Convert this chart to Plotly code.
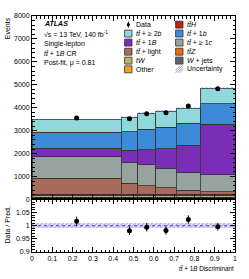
import plotly.graph_objects as go

# ---- data ----
bin_edges = [0.0, 0.44, 0.52, 0.61, 0.71, 0.83, 1.0]

other   = [105, 100, 100, 100, 100, 105]
tw      = [85, 82, 80, 80, 80, 80]
wjets   = [18, 18, 16, 16, 16, 18]
ttz     = [12, 12, 12, 12, 12, 14]
tth     = [10, 10, 10, 10, 12, 13]
tt_light = [686, 490, 381, 292, 190, 115]
tt_ge1c  = [956, 910, 916, 828, 784, 739]
tt_1B    = [371, 530, 663, 871, 1176, 2199]
tt_1b    = [691, 796, 885, 929, 947, 898]
tt_ge2b  = [561, 634, 695, 708, 663, 664]

data_vals = [3555, 3515, 3737, 3777, 4074, 4826]
data_err  = [60, 59, 61, 61, 64, 69]
unc_rel   = [0.010, 0.010, 0.010, 0.010, 0.010, 0.010]

x_ticks = [0, 0.1, 0.2, 0.3, 0.4, 0.5, 0.6, 0.7, 0.8, 0.9, 1]
y_ticks = [0, 1000, 2000, 3000, 4000, 5000, 6000, 7000, 8000]
r_ticks = [0.9, 0.95, 1, 1.05]

# ---- styling ----
FONT = "Liberation Sans"
FS = 7
W, H = 249, 279
L, R, T, B = 32, 12, 14, 27
PW, PH = W - L - R, H - T - B
ratio_h = 53

centers = [(a + b) / 2 for a, b in zip(bin_edges[:-1], bin_edges[1:])]
widths = [b - a for a, b in zip(bin_edges[:-1], bin_edges[1:])]

# stack bottom -> top
stack = [
    ("Other", other, "#f6a21c"),
    ("<i>tW</i>", tw, "#bdb06e"),
    ("<i>W</i> + jets", wjets, "#60656c"),
    ("<i>tt̄Z</i>", ttz, "#e8680c"),
    ("<i>tt̄H</i>", tth, "#c2210e"),
    ("<i>tt̄</i> + light", tt_light, "#a86b5b"),
    ("<i>tt̄</i> + ≥ 1<i>c</i>", tt_ge1c, "#97a39e"),
    ("<i>tt̄</i> + 1<i>B</i>", tt_1B, "#7a2db6"),
    ("<i>tt̄</i> + 1<i>b</i>", tt_1b, "#3b8bd8"),
    ("<i>tt̄</i> + ≥ 2<i>b</i>", tt_ge2b, "#91d8dc"),
]
colors = {n: c for n, _, c in stack}

totals = [sum(s[1][i] for s in stack) for i in range(len(centers))]

fig = go.Figure()
for name, vals, col in stack:
    fig.add_trace(go.Bar(x=centers, y=vals, width=widths, name=name,
                         marker=dict(color=col, line=dict(color="#333333", width=0.8)),
                         xaxis="x", yaxis="y", showlegend=False))

UNC_COL = "#7070e8"
unc_abs = [t * u for t, u in zip(totals, unc_rel)]
fig.add_trace(go.Bar(x=centers, y=[2 * u for u in unc_abs], base=[t - u for t, u in zip(totals, unc_abs)],
                     width=widths, marker=dict(color="rgba(0,0,0,0)", line=dict(width=0),
                     pattern=dict(shape="/", fgcolor=UNC_COL, size=3, solidity=0.4, fillmode="overlay")),
                     xaxis="x", yaxis="y", showlegend=False))

fig.add_trace(go.Scatter(x=centers, y=data_vals, mode="markers",
                         marker=dict(color="black", size=5),
                         error_y=dict(type="data", array=data_err, color="black", thickness=1, width=0),
                         xaxis="x", yaxis="y", showlegend=False))

# ratio panel
fig.add_trace(go.Bar(x=centers, y=[2 * u for u in unc_rel], base=[1 - u for u in unc_rel],
                     width=widths, marker=dict(color="rgba(180,180,255,0.35)", line=dict(width=0),
                     pattern=dict(shape="/", fgcolor=UNC_COL, size=3, solidity=0.4, fillmode="overlay")),
                     xaxis="x2", yaxis="y2", showlegend=False))
fig.add_trace(go.Scatter(x=[0, 1], y=[1, 1], mode="lines", line=dict(color="#2a2a8a", width=0.8, dash="dot"),
                         xaxis="x2", yaxis="y2", showlegend=False, hoverinfo="skip"))
ratio = [d / t for d, t in zip(data_vals, totals)]
ratio_err = [e / t for e, t in zip(data_err, totals)]
fig.add_trace(go.Scatter(x=centers, y=ratio, mode="markers",
                         marker=dict(color="black", size=5),
                         error_y=dict(type="data", array=ratio_err, color="black", thickness=1, width=0),
                         xaxis="x2", yaxis="y2", showlegend=False))

rd = ratio_h / PH
axis_common = dict(showline=True, linecolor="black", linewidth=1, mirror="ticks", ticks="inside",
                   ticklen=5, tickcolor="black", tickwidth=1, showgrid=False, zeroline=False,
                   tickfont=dict(family=FONT, size=FS, color="black"))
fig.update_layout(
    width=W, height=H, margin=dict(l=L, r=R, t=T, b=B),
    paper_bgcolor="white", plot_bgcolor="white", barmode="stack", bargap=0,
    showlegend=False, hovermode=False,
    font=dict(family=FONT, size=FS, color="black"),
    xaxis=dict(domain=[0, 1], anchor="y", range=[0, 1], tickvals=x_ticks, showticklabels=False,
               minor=dict(dtick=0.02, ticks="inside", ticklen=2.5, tickcolor="black"), **axis_common),
    yaxis=dict(domain=[rd, 1], anchor="x", range=[0, 8000], tickvals=y_ticks,
               minor=dict(dtick=200, ticks="inside", ticklen=2.5, tickcolor="black"), **axis_common),
    xaxis2=dict(domain=[0, 1], anchor="y2", range=[0, 1], tickvals=x_ticks, ticktext=[f"{v:g}" for v in x_ticks],
                minor=dict(dtick=0.02, ticks="inside", ticklen=2.5, tickcolor="black"), **axis_common),
    yaxis2=dict(domain=[0, rd], anchor="x2", range=[0.9, 1.1], tickvals=r_ticks,
                ticktext=[f"{v:g}" for v in r_ticks],
                minor=dict(dtick=0.01, ticks="inside", ticklen=2.5, tickcolor="black"), **axis_common),
)

def px(x):
    return (x - L) / PW

def py(y):
    return (T + PH - y) / PH

ann = []
shapes = []
# labels
ann.append(dict(x=px(42), y=py(21.7), xref="paper", yref="paper", xanchor="left", yanchor="middle",
                text="<b><i>ATLAS</i></b>", showarrow=False, font=dict(size=FS)))
for txt, yy in [("√s = 13 TeV, 140 fb<sup>-1</sup>", 31.7), ("Single-lepton", 42.0),
                ("<i>tt̄</i> + 1<i>B</i> CR", 51.7), ("Post-fit, μ = 0.81", 61.0)]:
    ann.append(dict(x=px(42), y=py(yy), xref="paper", yref="paper", xanchor="left", yanchor="middle",
                    text=txt, showarrow=False, font=dict(size=FS)))

# axis titles
ann.append(dict(x=px(7), y=py(13), xref="paper", yref="paper", xanchor="center", yanchor="top",
                text="Events", textangle=-90, showarrow=False, font=dict(size=FS)))
ann.append(dict(x=px(7), y=py(225), xref="paper", yref="paper", xanchor="center", yanchor="middle",
                text="Data / Pred.", textangle=-90, showarrow=False, font=dict(size=FS)))
ann.append(dict(x=px(238), y=py(269), xref="paper", yref="paper", xanchor="right", yanchor="middle",
                text="<i>tt̄</i> + 1<i>B</i> Discriminant", showarrow=False, font=dict(size=6.3)))

# legend (two columns, row-major)
leg_col1 = ["Data", "<i>tt̄</i> + ≥ 2<i>b</i>", "<i>tt̄</i> + 1<i>B</i>", "<i>tt̄</i> + light", "<i>tW</i>", "Other"]
leg_col2 = ["<i>tt̄H</i>", "<i>tt̄</i> + 1<i>b</i>", "<i>tt̄</i> + ≥ 1<i>c</i>", "<i>tt̄Z</i>", "<i>W</i> + jets", "Uncertainty"]
rows_y = [22.7, 31.7, 40.8, 50.0, 59.0, 67.8]
for col_names, bx in [(leg_col1, 125.5), (leg_col2, 177.0)]:
    for name, yy in zip(col_names, rows_y):
        if name == "Data":
            shapes.append(dict(type="circle", xref="paper", yref="paper",
                               x0=px(bx + 2.2), x1=px(bx + 5.4), y0=py(yy + 1.6), y1=py(yy - 1.6),
                               fillcolor="black", line=dict(color="black", width=0)))
            shapes.append(dict(type="line", xref="paper", yref="paper",
                               x0=px(bx + 3.8), x1=px(bx + 3.8), y0=py(yy + 3), y1=py(yy - 3),
                               line=dict(color="black", width=1)))
        elif name == "Uncertainty":
            for k in range(4):
                x0 = bx + k * 2.2 - 2.5
                xa, xb = max(bx, x0), min(bx + 7.5, x0 + 7)
                shapes.append(dict(type="line", xref="paper", yref="paper",
                                   x0=px(xa), x1=px(xb),
                                   y0=py(yy + 3.5 - (xa - x0)), y1=py(yy + 3.5 - (xb - x0)),
                                   line=dict(color=UNC_COL, width=0.7)))
        else:
            shapes.append(dict(type="rect", xref="paper", yref="paper",
                               x0=px(bx), x1=px(bx + 7.5), y0=py(yy + 3.5), y1=py(yy - 3.5),
                               fillcolor=colors[name], line=dict(color="#333333", width=0.8)))
        ann.append(dict(x=px(bx + 9.5), y=py(yy), xref="paper", yref="paper", xanchor="left", yanchor="middle",
                        text=name, showarrow=False, font=dict(size=FS)))

fig.update_layout(annotations=ann, shapes=shapes)
fig.write_html("out.html", config={"displayModeBar": False, "staticPlot": True},
               post_script="document.body.style.margin='0';document.body.style.overflow='hidden';")
